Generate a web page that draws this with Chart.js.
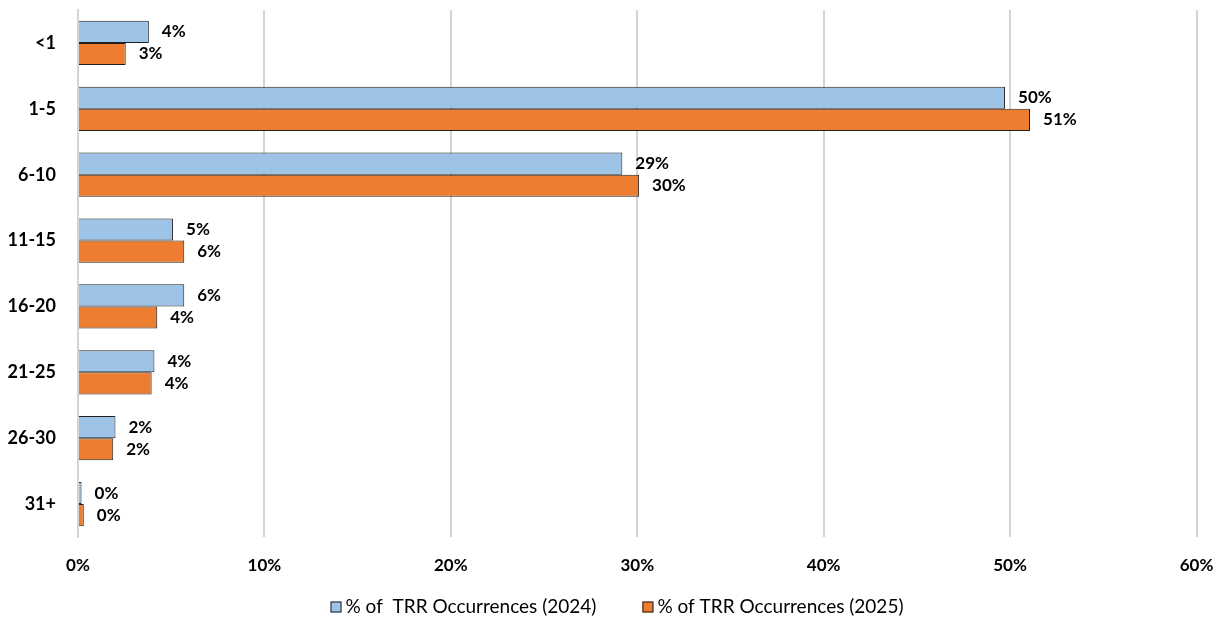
<!DOCTYPE html>
<html>
<head>
<meta charset="utf-8">
<script src="https://cdn.jsdelivr.net/npm/chart.js@4"></script>
<style>
  html, body { margin: 0; padding: 0; background: #fff; }
  #wrap { width: 1220px; height: 622px; position: relative; }
</style>
</head>
<body>
<div id="wrap"><canvas id="trrChart"></canvas></div>
<script>
// Tidsintervall (dagar) och andel TRR-händelser per år
const categories = ['<1', '1-5', '6-10', '11-15', '16-20', '21-25', '26-30', '31+'];
const pct2024 = [3.8, 49.73, 29.2, 5.1, 5.7, 4.1, 2.01, 0.19];
const pct2025 = [2.56, 51.07, 30.1, 5.7, 4.25, 3.95, 1.89, 0.31];
const xTicks = [0, 10, 20, 30, 40, 50, 60];

const fontFamily = 'Lato, "Liberation Sans", sans-serif';

// Skriver ut värdet efter varje stapel
const valueLabels = {
  id: 'valueLabels',
  afterDatasetsDraw(chart) {
    const ctx = chart.ctx;
    ctx.save();
    ctx.font = 'bold 17px ' + fontFamily;
    ctx.fillStyle = '#000';
    ctx.textAlign = 'left';
    ctx.textBaseline = 'middle';
    chart.data.datasets.forEach((ds, i) => {
      chart.getDatasetMeta(i).data.forEach((bar, j) => {
        ctx.fillText(Math.round(ds.data[j]) + '%', bar.x + 13, bar.y);
      });
    });
    ctx.restore();
  }
};

// Egen förklaring längst ner, med större mellanrum mellan posterna
const bottomLegend = {
  id: 'bottomLegend',
  afterDraw(chart) {
    const ctx = chart.ctx;
    const box = 11, gap = 4, itemGap = 46;
    ctx.save();
    ctx.font = '19px ' + fontFamily;
    ctx.textBaseline = 'middle';
    ctx.textAlign = 'left';
    const items = chart.data.datasets.map(ds => ({
      text: ds.label, fill: ds.backgroundColor, stroke: ds.borderColor,
      w: box + gap + ctx.measureText(ds.label).width
    }));
    const total = items.reduce((s, it) => s + it.w, 0) + itemGap * (items.length - 1);
    let x = 617 - total / 2;
    const y = 607;
    items.forEach(it => {
      ctx.fillStyle = it.fill;
      ctx.fillRect(x, y - box / 2, box, box);
      ctx.strokeStyle = it.stroke;
      ctx.lineWidth = 1;
      ctx.strokeRect(x + 0.5, y - box / 2 + 0.5, box - 1, box - 1);
      ctx.fillStyle = '#000';
      ctx.fillText(it.text, x + box + gap, y);
      x += it.w + itemGap;
    });
    ctx.restore();
  }
};

const ctx = document.getElementById('trrChart').getContext('2d');
new Chart(ctx, {
  type: 'bar',
  data: {
    labels: categories,
    datasets: [
      {
        label: '% of  TRR Occurrences (2024)',
        data: pct2024,
        backgroundColor: '#9DC3E6',
        borderColor: '#1f1f1f',
        borderWidth: 1
      },
      {
        label: '% of TRR Occurrences (2025)',
        data: pct2025,
        backgroundColor: '#ED7D31',
        borderColor: '#1f1f1f',
        borderWidth: 1
      }
    ]
  },
  options: {
    indexAxis: 'y',
    responsive: true,
    maintainAspectRatio: false,
    animation: false,
    layout: {
      padding: { top: 10, right: 23.5, left: 0, bottom: 45 }
    },
    datasets: {
      bar: { categoryPercentage: 0.67, barPercentage: 1 }
    },
    plugins: {
      legend: { display: false },
      tooltip: { enabled: false }
    },
    scales: {
      x: {
        min: 0,
        max: 60,
        afterBuildTicks: axis => { axis.ticks = xTicks.map(v => ({ value: v })); },
        afterFit: axis => {
          axis.height = 40;
          axis.paddingLeft = 0;
          axis.paddingRight = 0;
        },
        ticks: {
          callback: v => v + '%',
          font: { family: fontFamily, size: 17, weight: 'bold' },
          color: '#000',
          padding: 18
        },
        grid: { color: '#d4d4d4', lineWidth: 2, drawTicks: false },
        border: { display: false }
      },
      y: {
        afterFit: axis => {
          axis.width = 78;
          axis.paddingTop = 0;
          axis.paddingBottom = 0;
        },
        ticks: {
          font: { family: fontFamily, size: 18, weight: 'bold' },
          color: '#000',
          padding: 14
        },
        grid: { display: false },
        border: { display: true, color: '#d4d4d4', width: 2 }
      }
    }
  },
  plugins: [valueLabels, bottomLegend]
});
</script>
</body>
</html>
